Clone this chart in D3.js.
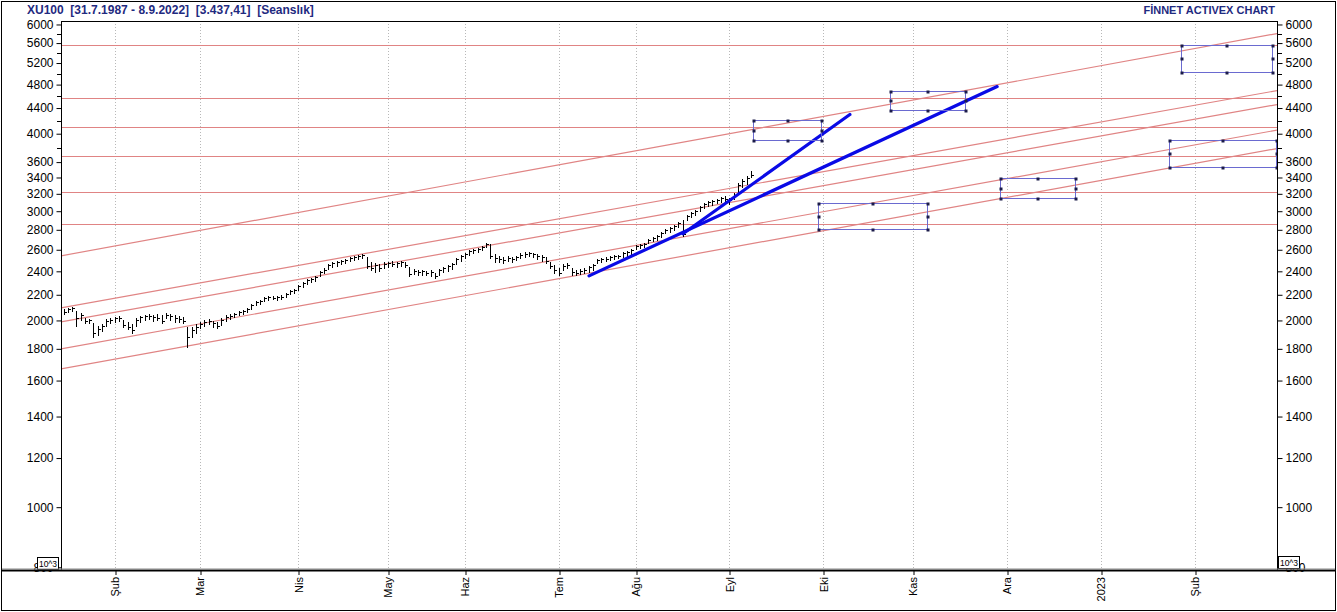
<!DOCTYPE html>
<html>
<head>
<meta charset="utf-8">
<script src="https://cdn.jsdelivr.net/npm/d3@7"></script>
<style>
  body { margin: 0; background: #fff; }
  svg { display: block; }
  text { font-family: "Liberation Sans", Arial, sans-serif; }
</style>
</head>
<body>
<script>
var width = 1337, height = 612;

// daily bars, 14.1.2022 - 8.9.2022 (trading day index 0..161)
var barHigh = [2088,2096,2104,2072,2057,2019,2012,1982,1960,1975,2012,2019,2027,2034,2004,1990,1975,2019,2034,2042,
  2050,2042,2050,2042,2057,2050,2042,2034,2027,1953,1953,1975,1990,2004,2012,1997,1990,2019,2042,2050,
  2057,2072,2080,2096,2127,2151,2159,2183,2191,2191,2191,2200,2216,2241,2249,2283,2308,2334,2343,2360,
  2405,2432,2468,2487,2496,2505,2514,2533,2542,2552,2561,2533,2487,2477,2468,2487,2487,2496,2487,2496,
  2487,2441,2423,2414,2414,2405,2414,2387,2423,2441,2459,2477,2524,2552,2571,2600,2609,2619,2639,2668,
  2658,2561,2542,2533,2542,2533,2542,2571,2581,2581,2571,2561,2552,2533,2487,2459,2432,2468,2477,2432,
  2414,2423,2432,2450,2468,2514,2524,2533,2542,2552,2552,2581,2590,2609,2649,2658,2668,2708,2728,2749,
  2780,2811,2832,2853,2885,2907,2961,2994,3017,3062,3096,3119,3131,3143,3166,3178,3154,3213,3335,3385,
  3423,3487];
var barLow = [2050,2065,2072,1960,2004,1982,1982,1882,1896,1924,1960,1982,1990,1997,1953,1939,1910,1960,1990,2004,
  2012,1997,2004,1982,2019,2004,1990,1990,1982,1813,1882,1910,1946,1960,1975,1953,1946,1967,1997,2012,
  2027,2042,2050,2065,2088,2119,2127,2151,2159,2167,2159,2167,2183,2208,2216,2241,2266,2291,2308,2317,
  2360,2387,2423,2441,2450,2468,2477,2496,2505,2514,2524,2432,2414,2396,2405,2432,2441,2450,2441,2450,
  2441,2360,2378,2369,2369,2369,2360,2343,2369,2396,2405,2423,2468,2496,2524,2552,2571,2581,2600,2629,
  2524,2487,2487,2477,2496,2487,2505,2524,2533,2542,2533,2514,2496,2477,2432,2387,2369,2414,2432,2369,
  2369,2378,2387,2396,2414,2477,2487,2496,2505,2514,2524,2533,2542,2561,2609,2619,2629,2668,2688,2698,
  2728,2769,2780,2800,2832,2739,2907,2939,2961,3005,3039,3062,3073,3096,3108,3119,3085,3143,3225,3286,
  3323,3410];
var barClose = [2065,2088,2096,2019,2042,1997,2004,1910,1939,1960,1997,2004,2019,2019,1967,1953,1931,2004,2027,2034,
  2034,2027,2019,1997,2042,2034,2019,2012,1997,1882,1931,1953,1975,1990,1997,1982,1960,2004,2027,2034,
  2050,2065,2072,2088,2119,2143,2151,2175,2183,2175,2183,2183,2208,2232,2241,2274,2300,2325,2334,2352,
  2396,2414,2459,2477,2487,2496,2505,2524,2533,2542,2552,2450,2432,2459,2432,2468,2477,2468,2477,2487,
  2459,2378,2405,2396,2405,2387,2396,2360,2414,2432,2450,2468,2514,2542,2561,2590,2600,2609,2629,2658,
  2542,2524,2514,2505,2524,2514,2533,2552,2561,2571,2561,2542,2533,2496,2450,2414,2387,2450,2459,2396,
  2387,2405,2414,2441,2459,2505,2514,2514,2533,2542,2542,2571,2581,2600,2639,2649,2658,2698,2718,2739,
  2769,2800,2821,2842,2874,2759,2950,2983,3005,3051,3085,3108,3119,3131,3154,3143,3131,3190,3310,3360,
  3398,3437.41];

// month starts (trading day index) and their labels
var monthIdx = [12, 32, 55, 76, 94, 116, 134, 156, 178, 199, 221, 243, 265];
var monthNames = ["Şub", "Mar", "Nis", "May", "Haz", "Tem", "Ağu", "Eyl", "Eki", "Kas", "Ara", "2023", "Şub"];

var yLabels = [6000, 5600, 5200, 4800, 4400, 4000, 3600, 3400, 3200, 3000, 2800, 2600, 2400, 2200, 2000, 1800, 1600, 1400, 1200, 1000, 800];
var yMinor = [5800, 5400, 5000, 4600, 4200, 3800];

// drawings
var levels = [5550, 4574, 4107, 3688, 3226, 2860];
var channelStart = [2542, 2096, 1989, 1800, 1671];
var channelEnd = [5802, 4694, 4457, 4054, 3786];
var trendFrom = [[123.1, 2360], [145.1, 2759]];
var trendTo = [[218.7, 4765], [184.2, 4295]];
var boxLeft = [161.5, 193.6, 176.7, 219.4, 258.9, 261.8];
var boxRight = [177.4, 211.2, 202.3, 236.9, 284.0, 283.1];
var boxTop = [4215, 4694, 3097, 3398, 3912, 5550];
var boxBottom = [3912, 4374, 2811, 3154, 3539, 5037];

var L = 61, R = 1277, T = 21, B = 570;
var x = d3.scaleLinear().domain([-0.59, 284.25]).range([L, R]);
var y = d3.scaleLog().domain([792, 6078]).range([B, T]);

var svg = d3.select("body").append("svg")
    .attr("width", width)
    .attr("height", height);

svg.append("rect").attr("width", width).attr("height", height).attr("fill", "#fff");

svg.append("defs").append("clipPath").attr("id", "plot")
  .append("rect").attr("x", L).attr("y", T).attr("width", R - L).attr("height", B - T);

// titles
svg.append("text")
    .attr("x", 27).attr("y", 14)
    .attr("fill", "#1f2a80")
    .style("font-weight", "bold").style("font-size", "12px")
    .style("white-space", "pre")
    .text("XU100  [31.7.1987 - 8.9.2022]  [3.437,41]  [Seanslık]");
svg.append("text")
    .attr("x", 1275).attr("y", 14)
    .attr("text-anchor", "end")
    .attr("fill", "#1f2a80")
    .style("font-weight", "bold").style("font-size", "11px")
    .text("FİNNET ACTIVEX CHART");

// month gridlines
svg.append("g").selectAll("line")
    .data(monthIdx)
    .enter().append("line")
    .attr("x1", function(d) { return Math.round(x(d)) + 0.5; })
    .attr("x2", function(d) { return Math.round(x(d)) + 0.5; })
    .attr("y1", T).attr("y2", B)
    .attr("stroke", "#b8b8b8")
    .attr("stroke-dasharray", "1,2");

var plot = svg.append("g").attr("clip-path", "url(#plot)");

// horizontal levels
plot.selectAll(".level")
    .data(levels)
    .enter().append("line")
    .attr("class", "level")
    .attr("x1", L).attr("x2", R)
    .attr("y1", function(d) { return Math.round(y(d)) + 0.5; })
    .attr("y2", function(d) { return Math.round(y(d)) + 0.5; })
    .attr("stroke", "#e08484").attr("stroke-width", 1.2);

// parallel channel lines
plot.selectAll(".chan")
    .data(channelStart)
    .enter().append("line")
    .attr("class", "chan")
    .attr("x1", x(-0.59)).attr("x2", x(284.25))
    .attr("y1", function(d) { return y(d); })
    .attr("y2", function(d, i) { return y(channelEnd[i]); })
    .attr("stroke", "#e08484").attr("stroke-width", 1.2);

// price bars
var bars = plot.append("g").attr("stroke", "#000").attr("stroke-width", 1).attr("shape-rendering", "crispEdges");
barHigh.forEach(function(h, i) {
    var xi = Math.round(x(i)) + 0.5;
    bars.append("line")
        .attr("x1", xi).attr("x2", xi)
        .attr("y1", Math.round(y(h))).attr("y2", Math.round(y(barLow[i])) + 1);
    var yc = Math.round(y(barClose[i])) + 0.5;
    bars.append("line")
        .attr("x1", xi).attr("x2", xi + 2)
        .attr("y1", yc).attr("y2", yc);
});

// blue trend lines
plot.selectAll(".trend")
    .data(trendFrom)
    .enter().append("line")
    .attr("class", "trend")
    .attr("x1", function(d) { return x(d[0]); })
    .attr("y1", function(d) { return y(d[1]); })
    .attr("x2", function(d, i) { return x(trendTo[i][0]); })
    .attr("y2", function(d, i) { return y(trendTo[i][1]); })
    .attr("stroke", "#0a0ae6").attr("stroke-width", 3.2)
    .attr("stroke-linecap", "round");

// target boxes with handles
boxLeft.forEach(function(b, i) {
    var x0 = Math.round(x(b)) + 0.5, x1 = Math.round(x(boxRight[i])) + 0.5;
    var y0 = Math.round(y(boxTop[i])) + 0.5, y1 = Math.round(y(boxBottom[i])) + 0.5;
    plot.append("rect")
        .attr("x", x0).attr("y", y0)
        .attr("width", x1 - x0).attr("height", y1 - y0)
        .attr("fill", "none").attr("stroke", "#6a6ad0").attr("stroke-width", 1);
    var xm = Math.round((x0 + x1) / 2), ym = Math.round((y0 + y1) / 2);
    var pts = [[x0, y0], [xm, y0], [x1, y0], [x0, ym], [x1, ym], [x0, y1], [xm, y1], [x1, y1]];
    pts.forEach(function(p) {
        plot.append("rect")
            .attr("x", Math.round(p[0]) - 1.5).attr("y", Math.round(p[1]) - 1.5)
            .attr("width", 3).attr("height", 3)
            .attr("fill", "#1c1c4a");
    });
});

// frame of plot
svg.append("line").attr("x1", L).attr("x2", R).attr("y1", T + 0.5).attr("y2", T + 0.5).attr("stroke", "#000");
svg.append("line").attr("x1", L + 0.5).attr("x2", L + 0.5).attr("y1", T).attr("y2", B).attr("stroke", "#000");
svg.append("line").attr("x1", R + 0.5).attr("x2", R + 0.5).attr("y1", T).attr("y2", B).attr("stroke", "#000");

// y axes
var leftAxis = d3.axisLeft(y).tickValues(yLabels).tickFormat(d3.format("d")).tickSize(5).tickPadding(3);
var rightAxis = d3.axisRight(y).tickValues(yLabels).tickFormat(d3.format("d")).tickSize(5).tickPadding(3);

var gl = svg.append("g").attr("transform", "translate(" + (L + 0.5) + ",0)").call(leftAxis);
var gr = svg.append("g").attr("transform", "translate(" + (R + 0.5) + ",0)").call(rightAxis);
[gl, gr].forEach(function(g) {
    g.select(".domain").remove();
    g.selectAll("text").attr("fill", "#000").style("font-size", "12px").style("font-family", "Liberation Sans, Arial, sans-serif");
    g.selectAll("line").attr("stroke", "#000");
});
svg.append("g").selectAll("line").data(yMinor).enter().append("line")
    .attr("x1", L - 4).attr("x2", L)
    .attr("y1", function(d) { return Math.round(y(d)) + 0.5; })
    .attr("y2", function(d) { return Math.round(y(d)) + 0.5; })
    .attr("stroke", "#000");
svg.append("g").selectAll("line").data(yMinor).enter().append("line")
    .attr("x1", R + 1).attr("x2", R + 5)
    .attr("y1", function(d) { return Math.round(y(d)) + 0.5; })
    .attr("y2", function(d) { return Math.round(y(d)) + 0.5; })
    .attr("stroke", "#000");

// 10^3 boxes, drawn over the lowest tick label as in the original
[[37, 557], [1278, 556]].forEach(function(p) {
    svg.append("rect").attr("x", p[0] + 0.5).attr("y", p[1] + 0.5).attr("width", 21).attr("height", 12)
        .attr("fill", "#fff").attr("stroke", "#000");
    svg.append("text").attr("x", p[0] + 11).attr("y", p[1] + 9.5)
        .attr("text-anchor", "middle").style("font-size", "8.5px").attr("fill", "#000")
        .text("10^3");
});

// bottom axis line
svg.append("line").attr("x1", 2).attr("x2", width - 2).attr("y1", B + 0.5).attr("y2", B + 0.5)
    .attr("stroke", "#000").attr("stroke-width", 2);
svg.append("line").attr("x1", 2).attr("x2", width - 2).attr("y1", B - 1).attr("y2", B - 1)
    .attr("stroke", "#888").attr("stroke-width", 1);

// month labels
var xAxis = d3.axisBottom(x).tickValues(monthIdx)
    .tickFormat(function(d, i) { return monthNames[i]; })
    .tickSize(4).tickPadding(3);
var gx = svg.append("g").attr("transform", "translate(0," + (B + 1) + ")").call(xAxis);
gx.select(".domain").remove();
gx.selectAll("line").attr("stroke", "#000")
    .attr("transform", function(d) { return "translate(" + (Math.round(x(d)) + 0.5 - x(d)) + ",0)"; });
gx.selectAll("text")
    .attr("fill", "#000")
    .style("font-size", "11px")
    .attr("transform", "rotate(-90)")
    .attr("text-anchor", "end")
    .attr("x", -6).attr("y", 0).attr("dy", "0.35em");

// outer frame
svg.append("rect").attr("x", 1.5).attr("y", 1.5).attr("width", width - 3).attr("height", height - 3)
    .attr("fill", "none").attr("stroke", "#000");
</script>
</body>
</html>
